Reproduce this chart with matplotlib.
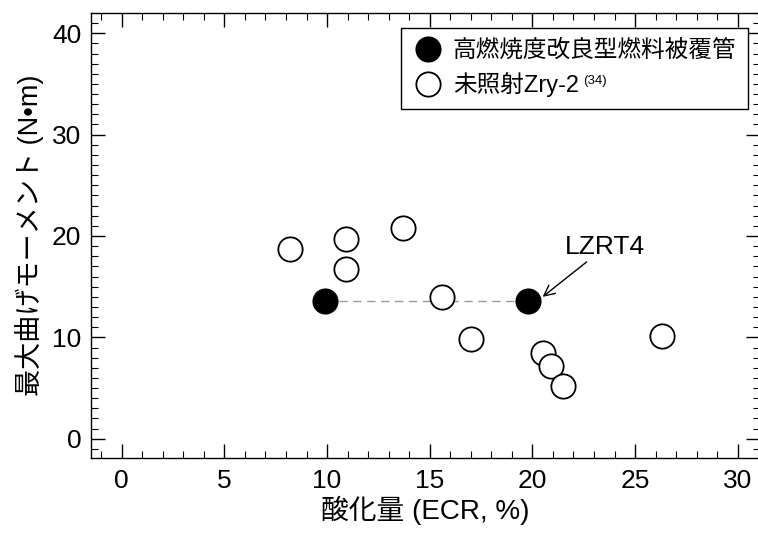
import numpy as np
import matplotlib.pyplot as plt
from matplotlib.ticker import MultipleLocator

plt.rcParams['font.family'] = ['Liberation Sans', 'Noto Sans CJK JP']

# high burnup cladding (filled)
hb_ecr = [9.9, 19.8]
hb_moment = [13.6, 13.6]

# unirradiated Zry-2 (open)
ur_ecr = [8.2, 10.9, 10.9, 13.7, 15.6, 17.0, 20.5, 20.9, 21.5, 26.3]
ur_moment = [18.7, 19.7, 16.7, 20.8, 14.0, 9.8, 8.5, 7.2, 5.2, 10.1]

fig = plt.figure(figsize=(7.58, 5.33), dpi=100)
ax = fig.add_axes([0.12, 0.1407, 0.883, 0.835])

ax.plot(hb_ecr, hb_moment, ls=(0, (6, 4)), color='#9a9a9a', lw=1, zorder=1)
ax.plot(hb_ecr, hb_moment, 'o', ms=17.5, mfc='black', mec='black', mew=1.3,
        ls='none', label='高燃焼度改良型燃料被覆管', zorder=3)
ax.plot(ur_ecr, ur_moment, 'o', ms=17.5, mfc='white', mec='black', mew=1.3,
        ls='none', label='未照射Zry-2', zorder=2)

ax.annotate('LZRT4', xy=(20.5, 14.0), xytext=(21.6, 18.9),
            fontsize=19, va='center', ha='left',
            arrowprops=dict(arrowstyle='->', lw=1, color='black',
                            shrinkA=0, shrinkB=0, relpos=(0.33, 0.05)))

ax.set_xlim(-1.5, 31.1)
ax.set_ylim(-1.9, 42)
ax.xaxis.set_major_locator(MultipleLocator(5))
ax.xaxis.set_minor_locator(MultipleLocator(1))
ax.yaxis.set_major_locator(MultipleLocator(10))
ax.yaxis.set_minor_locator(MultipleLocator(1))
ax.tick_params(which='both', direction='in', top=True, right=True, labelsize=19)
ax.tick_params(axis='x', which='both', pad=8)
ax.tick_params(axis='y', which='both', pad=7)
ax.tick_params(which='major', length=10, width=1)
ax.tick_params(which='minor', length=5, width=0.8)
for s in ax.spines.values():
    s.set_linewidth(1)

ax.set_xlabel('酸化量 (ECR, %)', fontsize=20, labelpad=2)
ax.set_ylabel('最大曲げモーメント (N•m)', fontsize=19.5, labelpad=6)

leg = ax.legend(loc='upper right', bbox_to_anchor=(0.982, 0.967), fontsize=17,
                frameon=True, fancybox=False, edgecolor='black', framealpha=1,
                handletextpad=0.4, borderpad=0.5, labelspacing=0.45,
                handlelength=1.3, borderaxespad=0, markerscale=1.0)
leg.get_frame().set_linewidth(1)

fig.canvas.draw()
bb = leg.get_texts()[1].get_window_extent()
x_end, y_top = fig.transFigure.inverted().transform((bb.x1, bb.y1))
fig.text(x_end + 0.005, y_top - 0.004, '(34)', fontsize=9.5, va='top', ha='left')

fig.savefig('out.png', dpi=100)
